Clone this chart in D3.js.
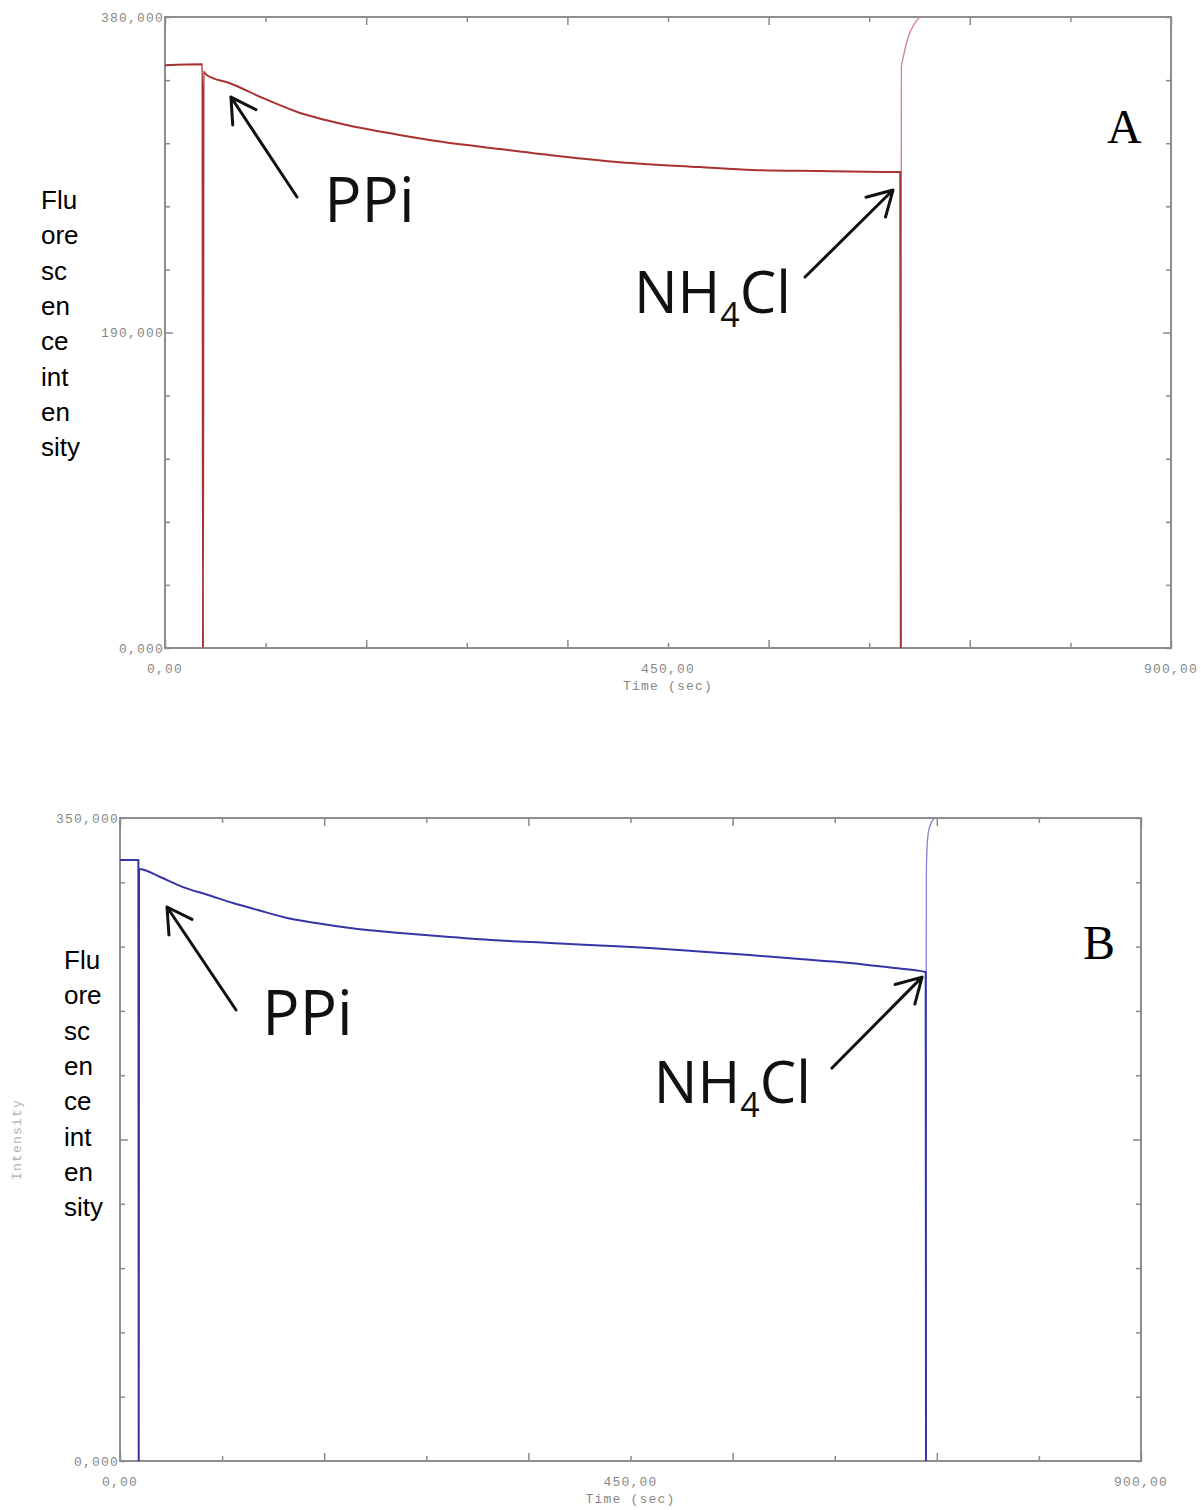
<!DOCTYPE html>
<html>
<head>
<meta charset="utf-8">
<title>Fluorescence intensity</title>
<style>
  body { margin: 0; background: #fff; }
  svg { display: block; }
</style>
</head>
<body>
<div id="chart"></div>
<script src="https://cdn.jsdelivr.net/npm/d3@7"></script>
<script>
// Trace A (red), time in sec / intensity
const timeA = [0, 33.5, 34, 34.5, 37.3, 58.1, 87.9, 117.8, 162.5, 207.3, 246, 299.7, 353.4, 407, 478.6,
  526, 586, 657.8, 658.3, 658.8, 660.5, 665, 671, 675.4, 690];
const intensityA = [351000, 351500, 0, 347000, 345100, 340100, 331100, 322950, 315000, 309300, 305000,
  300500, 296200, 292600, 289600, 287800, 287200, 286600,
  0, 350000, 356000, 368100, 376500, 380000, 390000];

// Trace B (blue)
const timeB = [0, 16.2, 16.5, 16.8, 35.3, 55.5, 77.6, 99.6, 121.6, 143.7, 172.8, 202.7, 246.8, 290.9,
  335, 379, 423, 467, 511, 555, 599, 643.5, 678.8, 710.2, 710.5, 710.8, 711.3, 712.5, 715.5, 718.4, 730];
const intensityB = [327100, 327100, 0, 322200, 317900, 312400, 308100, 303700, 299900, 296100, 292800,
  290100, 287400, 285200, 283300, 282000, 280600, 279200, 277300, 275400, 273200, 271100, 268600, 266200,
  0, 320000, 332600, 341900, 348000, 350000, 356000];

const xTicks = d3.range(0, 901, 90);
const xTickLabels = [0, 450, 900];
const yTickLabelsA = [0, 190000, 380000];
const yTickLabelsB = [0, 350000];
const sideLabel = ["Flu", "ore", "sc", "en", "ce", "int", "en", "sity"];

// annotations in data units: [time, intensity]
const arrowsA = [
  { from: [118.1, 271600], to: [59, 331800] },
  { from: [572.6, 223400], to: [651.3, 275800] }
];
const arrowsB = [
  { from: [102.3, 245500], to: [41.4, 301550] },
  { from: [627.6, 213900], to: [707, 263400] }
];
const ppiA = [142.5, 256500], nh4clA = [419.5, 201700], letterA = [842.7, 304100];
const ppiB = [125.5, 231900], nh4clB = [470.5, 194900], letterB = [848.9, 273200];

const W = 1201, H = 1510;
const svg = d3.select("#chart").append("svg")
  .attr("width", W)
  .attr("height", H);

const fmtY = v => d3.format(".3f")(v / 1000).replace(".", ",");
const fmtX = t => d3.format(".2f")(t).replace(".", ",");

const panels = [
  { id: "a", left: 165, right: 1171, top: 17, bottom: 648, yMax: 380000,
    time: timeA, value: intensityA, yLabels: yTickLabelsA,
    color: "#a83232", riseColor: "#d08a8a",
    arrows: arrowsA, ppi: ppiA, nh4cl: nh4clA, letter: "A", letterPos: letterA,
    sideX: 41, sideY: 209, intensityLabel: false },
  { id: "b", left: 120, right: 1141, top: 818, bottom: 1461, yMax: 350000,
    time: timeB, value: intensityB, yLabels: yTickLabelsB,
    color: "#3535a6", riseColor: "#8a8ad0",
    arrows: arrowsB, ppi: ppiB, nh4cl: nh4clB, letter: "B", letterPos: letterB,
    sideX: 64, sideY: 969, intensityLabel: true }
];

panels.forEach(p => {
  const x = d3.scaleLinear().domain([0, 900]).range([p.left, p.right]);
  const y = d3.scaleLinear().domain([0, p.yMax]).range([p.bottom, p.top]);
  const g = svg.append("g");
  const yTicks = d3.range(0, 11).map(i => p.yMax * i / 10);

  g.append("clipPath").attr("id", "clip-" + p.id)
    .append("rect")
    .attr("x", p.left).attr("y", p.top)
    .attr("width", p.right - p.left).attr("height", p.bottom - p.top);

  // inward ticks on all four sides
  const tickLenX = t => (t % 180 === 0 ? 8 : 5);
  const tickLenY = v => (v === p.yMax / 2 ? 8 : 5);
  const sides = [
    { axis: d3.axisBottom(x).tickValues(xTicks), at: [0, p.bottom], len: tickLenX, k: -1, horiz: true },
    { axis: d3.axisTop(x).tickValues(xTicks), at: [0, p.top], len: tickLenX, k: 1, horiz: true },
    { axis: d3.axisLeft(y).tickValues(yTicks), at: [p.left, 0], len: tickLenY, k: 1, horiz: false },
    { axis: d3.axisRight(y).tickValues(yTicks), at: [p.right, 0], len: tickLenY, k: -1, horiz: false }
  ];
  sides.forEach(s => {
    const ag = g.append("g")
      .attr("transform", `translate(${s.at[0]},${s.at[1]})`)
      .call(s.axis.tickSize(5).tickFormat(""));
    ag.select(".domain").remove();
    ag.selectAll(".tick line")
      .attr("stroke", "#8a8a8a")
      .attr("stroke-width", 1.5)
      .each(function(d) {
        const l = s.len(d) * s.k;
        if (s.horiz) d3.select(this).attr("y2", l);
        else d3.select(this).attr("x2", l);
      });
  });

  // frame
  g.append("rect")
    .attr("x", p.left).attr("y", p.top)
    .attr("width", p.right - p.left).attr("height", p.bottom - p.top)
    .attr("fill", "none")
    .attr("stroke", "#8d8d8d")
    .attr("stroke-width", 2);

  // tick labels
  const tickFont = g => g.attr("font-family", "'Liberation Mono', 'DejaVu Sans Mono', monospace")
    .attr("font-size", 13)
    .attr("letter-spacing", 1.2)
    .attr("fill", "#878787");

  g.selectAll(".ylab").data(p.yLabels).join("text")
    .attr("class", "ylab")
    .attr("x", p.left - 1)
    .attr("y", d => y(d))
    .attr("dy", "0.35em")
    .attr("text-anchor", "end")
    .text(fmtY)
    .call(tickFont);

  g.selectAll(".xlab").data(xTickLabels).join("text")
    .attr("class", "xlab")
    .attr("x", d => x(d))
    .attr("y", p.bottom + 20)
    .attr("dy", "0.35em")
    .attr("text-anchor", "middle")
    .text(fmtX)
    .call(tickFont);

  g.append("text")
    .attr("x", x(450))
    .attr("y", p.bottom + 37)
    .attr("dy", "0.35em")
    .attr("text-anchor", "middle")
    .text("Time (sec)")
    .call(tickFont);

  if (p.intensityLabel) {
    g.append("text")
      .attr("transform", `translate(16,${y(p.yMax * 0.5)}) rotate(-90)`)
      .attr("dy", "0.35em")
      .attr("text-anchor", "middle")
      .text("Intensity")
      .call(tickFont)
      .attr("fill", "#b0b0b0");
  }

  // trace: main part up to the last drop, then the lighter rise
  const pts = p.time.map((t, i) => [t, p.value[i]]);
  let lastZero = 0;
  pts.forEach((d, i) => { if (d[1] === 0) lastZero = i; });
  const line = d3.line().x(d => x(d[0])).y(d => y(d[1])).curve(d3.curveMonotoneX);
  const plot = g.append("g").attr("clip-path", `url(#clip-${p.id})`);
  plot.append("path")
    .datum(pts.slice(lastZero))
    .attr("d", line)
    .attr("fill", "none")
    .attr("stroke", p.riseColor)
    .attr("stroke-width", 1.4);
  plot.append("path")
    .datum(pts.slice(0, lastZero + 1))
    .attr("d", line)
    .attr("fill", "none")
    .attr("stroke", p.color)
    .attr("stroke-width", 2)
    .attr("stroke-linejoin", "round");

  // arrows
  p.arrows.forEach(a => {
    const x1 = x(a.from[0]), y1 = y(a.from[1]);
    const x2 = x(a.to[0]), y2 = y(a.to[1]);
    const ang = Math.atan2(y2 - y1, x2 - x1);
    const len = 28, spread = 0.52;
    const w1 = [x2 - len * Math.cos(ang + spread), y2 - len * Math.sin(ang + spread)];
    const w2 = [x2 - len * Math.cos(ang - spread), y2 - len * Math.sin(ang - spread)];
    g.append("path")
      .attr("d", `M${x1},${y1}L${x2},${y2}M${w1[0]},${w1[1]}L${x2},${y2}L${w2[0]},${w2[1]}`)
      .attr("fill", "none")
      .attr("stroke", "#111")
      .attr("stroke-width", 3)
      .attr("stroke-linecap", "round")
      .attr("stroke-linejoin", "round");
  });

  const annFont = "'Open Sans', 'Noto Sans', sans-serif";
  g.append("text")
    .attr("x", x(p.ppi[0])).attr("y", y(p.ppi[1]))
    .attr("font-family", annFont)
    .attr("font-size", 62)
    .attr("fill", "#111")
    .text("PPi");

  const nh = g.append("text")
    .attr("x", x(p.nh4cl[0])).attr("y", y(p.nh4cl[1]))
    .attr("font-family", annFont)
    .attr("font-size", 58)
    .attr("fill", "#111");
  nh.append("tspan").text("NH");
  nh.append("tspan").attr("font-size", 34).attr("dy", 14).text("4");
  nh.append("tspan").attr("dy", -14).text("Cl");

  g.append("text")
    .attr("x", x(p.letterPos[0])).attr("y", y(p.letterPos[1]))
    .attr("font-family", "'Liberation Serif', 'DejaVu Serif', serif")
    .attr("font-size", 48)
    .attr("fill", "#000")
    .text(p.letter);

  // stacked y label
  g.append("g").selectAll("text").data(sideLabel).join("text")
    .attr("x", p.sideX)
    .attr("y", (d, i) => p.sideY + i * 35.3)
    .attr("font-family", "'Liberation Sans', Arial, sans-serif")
    .attr("font-size", 26)
    .attr("fill", "#000")
    .text(d => d);
});
</script>
</body>
</html>
